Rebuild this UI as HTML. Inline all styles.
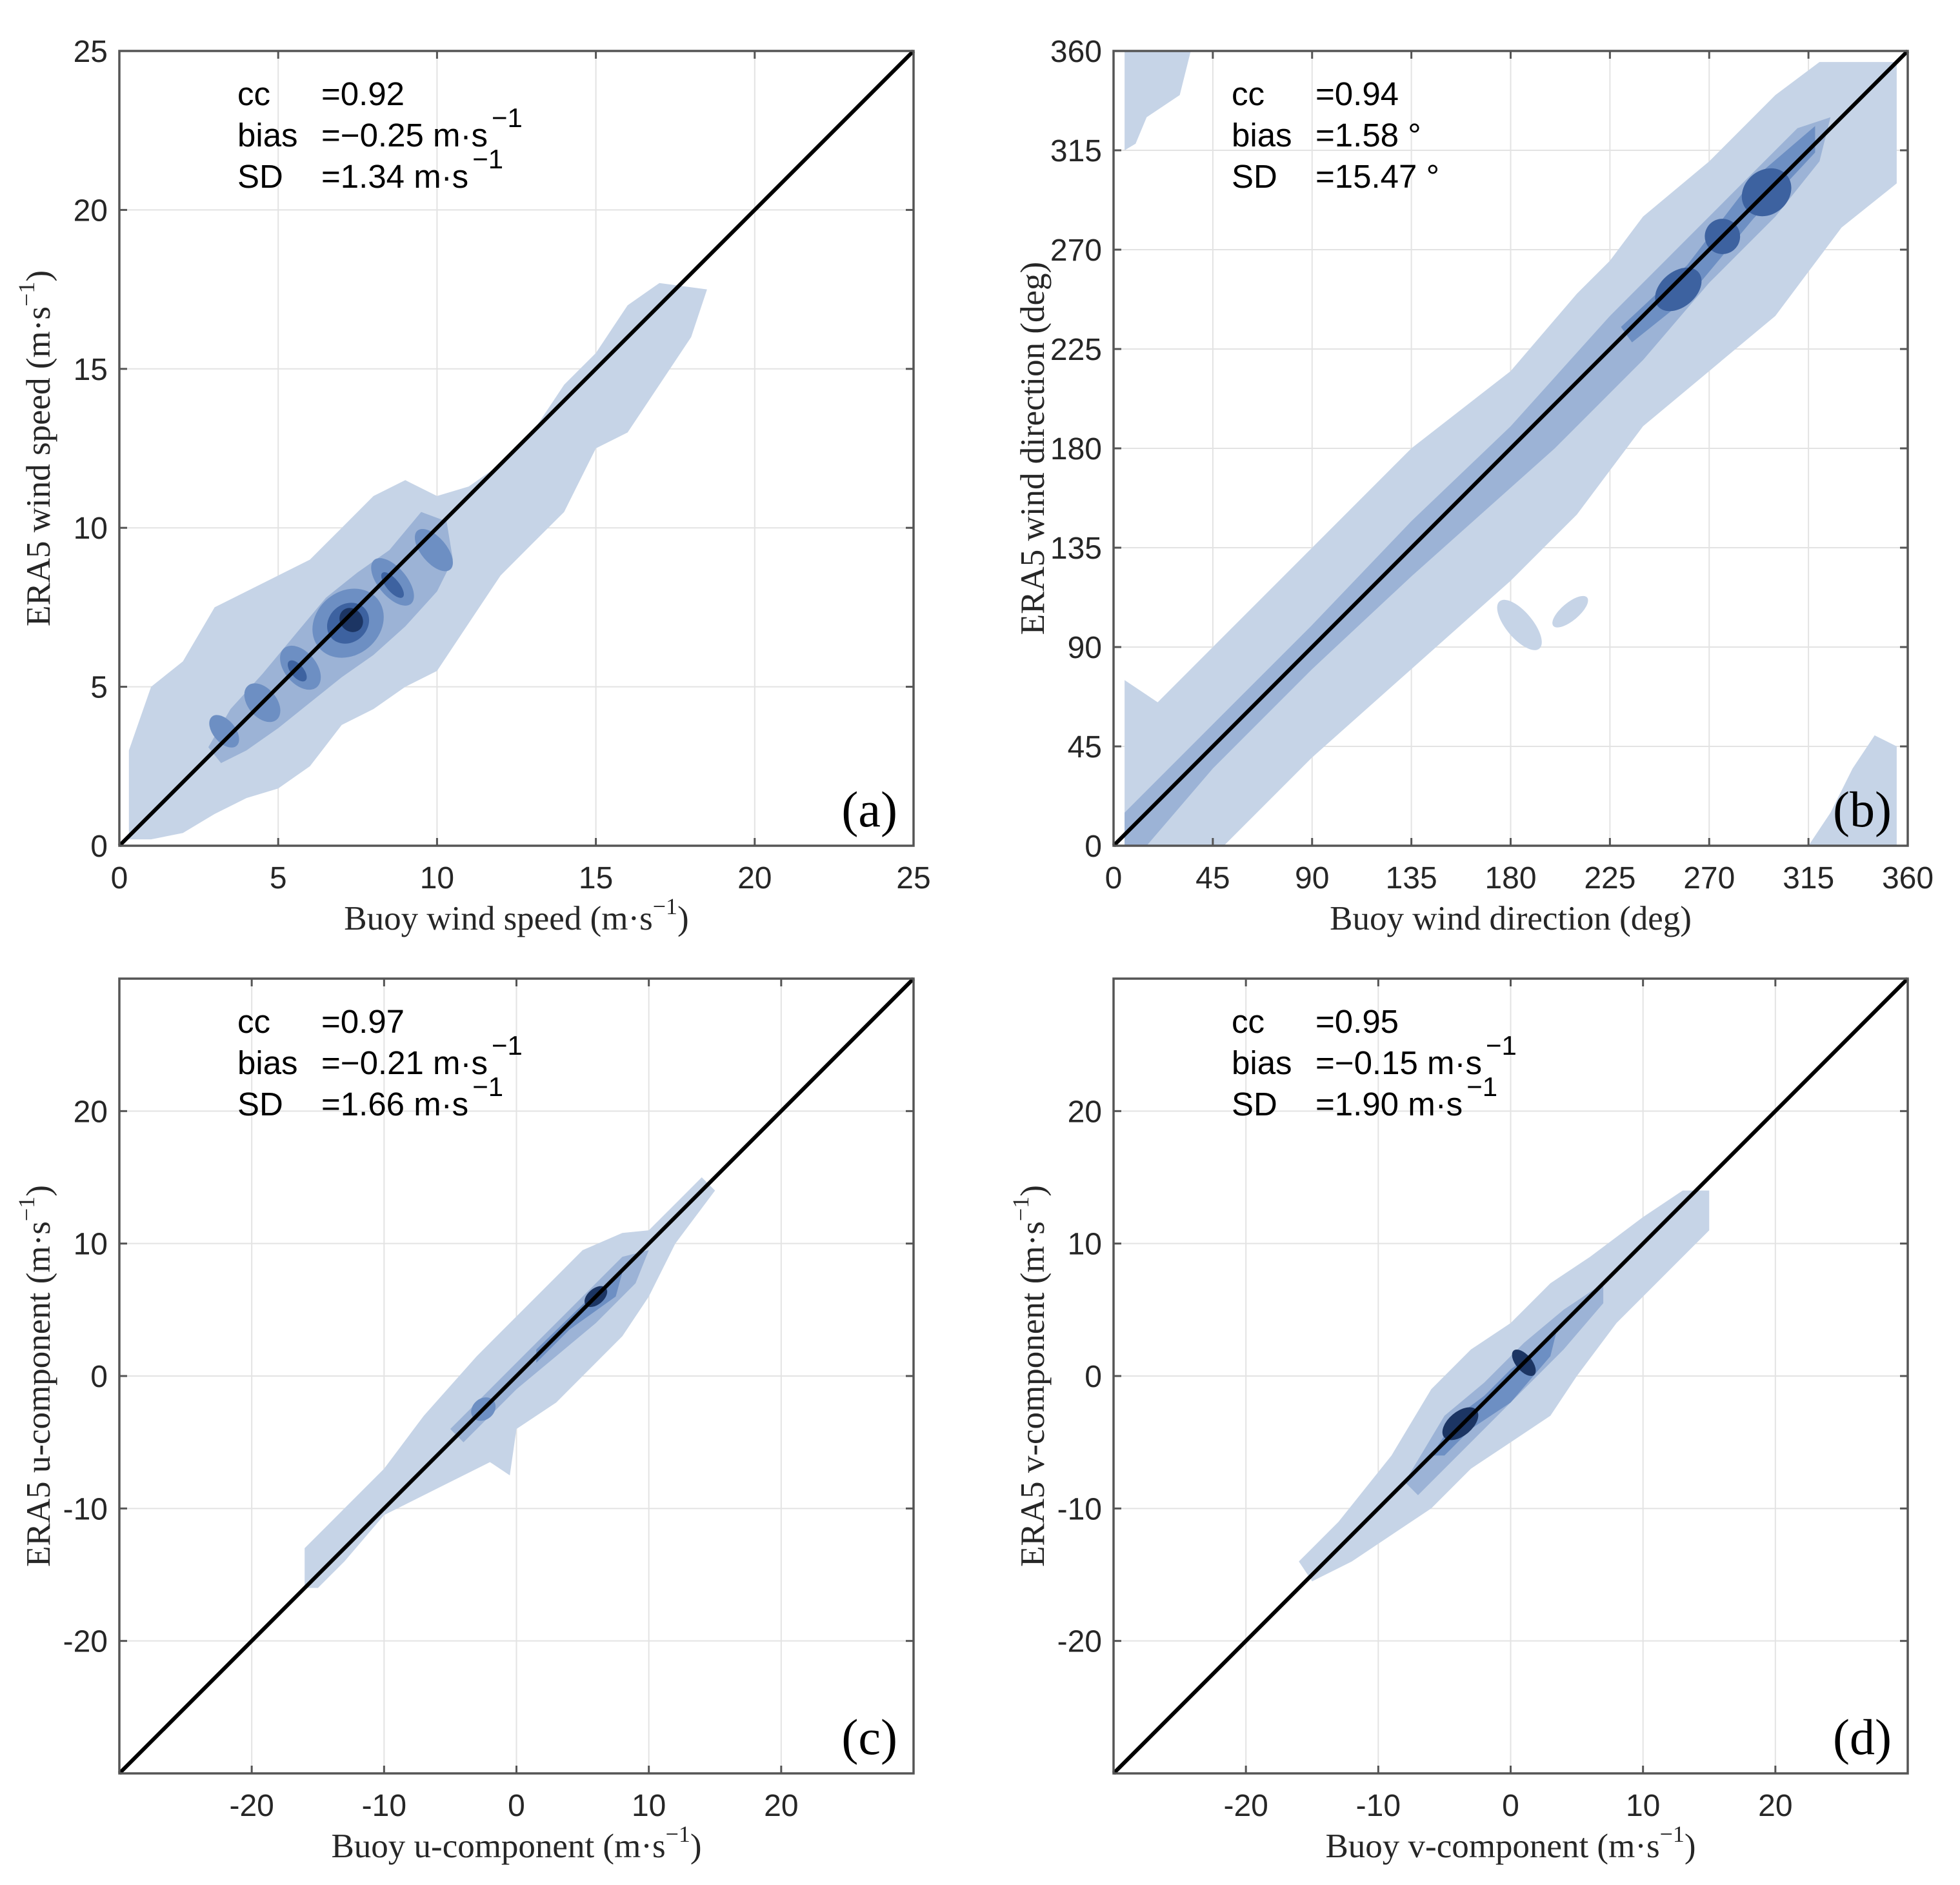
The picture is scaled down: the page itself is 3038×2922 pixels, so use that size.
<!DOCTYPE html>
<html><head><meta charset="utf-8">
<style>
html,body{margin:0;padding:0;background:#fff;}
svg{display:block;}
.tk{font-family:"Liberation Sans Narrow","Liberation Sans",sans-serif;font-size:48px;fill:#262626;}
.st{font-family:"Liberation Sans Narrow","Liberation Sans",sans-serif;font-size:51px;fill:#000;}
.ti{font-family:"Liberation Serif",serif;font-size:53px;fill:#262626;}
.pl{font-family:"Liberation Serif",serif;font-size:78px;fill:#000;}
</style></head>
<body>
<svg id="fig" width="3038" height="2922" viewBox="0 0 3038 2922" xmlns="http://www.w3.org/2000/svg"></svg>
<script>
// ---- data ----
const ticksA = [0,5,10,15,20,25];
const ticksB = [0,45,90,135,180,225,270,315,360];
const ticksC = [-20,-10,0,10,20];
const levelColors = ['#c6d4e7','#9cb3d6','#6d8fc3','#3d62a0','#1c3563'];

const contA1 = [[0.3,0.2],[0.3,3],[1,5],[2,5.8],[3,7.5],[4,8],[5,8.5],[6,9],[7,10],[8,11],[9,11.5],[10,11],[11,11.3],[12,12],[13,13],[14,14.5],[15,15.5],[16,17],[17,17.7],[18.5,17.5],[18,16],[17,14.5],[16,13],[15,12.5],[14,10.5],[13,9.5],[12,8.5],[11,7],[10,5.5],[9,5],[8,4.3],[7,3.8],[6,2.5],[5,1.8],[4,1.5],[3,1],[2,0.4],[1,0.2]];
const contA2 = [[2.8,3.1],[3.5,4.3],[4.5,5.4],[5.5,6.6],[6.5,7.8],[7.5,8.6],[8.5,9.3],[9.5,10.5],[10.3,10.2],[10.5,9],[10,8],[9,6.9],[8,6],[7,5.3],[6,4.5],[5,3.7],[4,3],[3.2,2.6]];
const blobsA = [[3.3,3.6,0.35,0.6,2],[4.5,4.5,0.45,0.7,2],[5.7,5.6,0.5,0.8,2],[7.2,7,1.2,1.0,2],[8.6,8.3,0.45,0.9,2],[9.9,9.3,0.4,0.8,2],[7.2,7,0.7,0.6,3],[5.6,5.5,0.2,0.4,3],[8.6,8.2,0.2,0.5,3],[7.3,7.1,0.35,0.4,4]];

const contB1 = [[5,0],[5,75],[20,65],[45,90],[90,135],[135,180],[180,215],[210,250],[225,265],[240,285],[270,310],[300,340],[320,355],[355,355],[355,300],[330,280],[300,240],[270,215],[240,190],[210,150],[180,120],[135,80],[90,40],[60,10],[50,0]];
const contB2 = [[5,0],[5,15],[45,55],[90,100],[135,147],[180,190],[225,240],[250,265],[280,295],[310,325],[325,330],[320,310],[300,285],[270,255],[240,220],[200,180],[135,122],[90,80],[45,35],[15,0]];
const contB3 = [[230,235],[260,263],[290,302],[318,326],[318,314],[290,284],[260,248],[235,228]];
const contB4 = [[5,315],[5,360],[35,360],[30,340],[15,330],[10,318]];
const contB5 = [[315,0],[355,0],[355,45],[345,50],[335,35],[325,15]];
const blobsB = [[184,100,6,14,0],[207,106,10,4,0],[256,252,12,8,3],[296,296,12,10,3],[276,276,8,8,3]];

const contC1 = [[-16,-16],[-16,-13],[-13,-10],[-10,-7],[-7,-3],[-3,1.5],[0,4.5],[3,7.5],[5,9.5],[8,10.8],[10,11],[12,13],[14,15],[15,14],[12,10],[10,6],[8,3],[5,0],[3,-2],[0,-4],[-0.5,-7.5],[-2,-6.5],[-6,-8.5],[-10,-10.5],[-13,-14],[-15,-16]];
const contC2 = [[-5,-4],[-2,-1],[2,3],[5,6],[8,9],[10,9.5],[9,7],[6,4],[3,1.5],[0,-1],[-2,-3],[-4,-5]];
const contC3 = [[1.5,2],[5,5.4],[8,7.8],[7.5,6],[4,3.5],[1.5,1]];
const blobsC = [[-2.5,-2.5,1,0.8,2],[6,6,1,0.6,4]];

const contD1 = [[-16,-14],[-13,-11],[-9,-6],[-6,-1],[-3,2],[0,4],[3,7],[6,9],[10,12],[13,14],[15,14],[15,11],[12,8],[8,4],[5,0],[3,-3],[0,-5],[-3,-7],[-6,-10],[-9,-12],[-12,-14],[-15,-15.5]];
const contD2 = [[-8,-8],[-5,-3],[-2,-0.5],[1,2.5],[4,5],[7,7],[7,5.5],[4,2],[1,-1],[-2,-4],[-5,-7],[-7,-9]];
const contD3 = [[-6,-6],[-4,-3],[-2,-1.5],[0,0.5],[2,2],[3.5,3.5],[3,1.5],[0,-2],[-3,-4],[-5,-6]];
const blobsD = [[-3.8,-3.6,1.6,0.9,4],[1,1,0.6,1.2,4]];

// ---- drawing ----
const NS='http://www.w3.org/2000/svg';
const svg=document.getElementById('fig');
function mk(tag,attrs,parent){const e=document.createElementNS(NS,tag);for(const k in attrs)e.setAttribute(k,attrs[k]);(parent||svg).appendChild(e);return e;}

function panel(p){
  const g=mk('g',{});
  
  
  const W=1231,H=1232;
  const sx=v=>p.x0+(v-p.min)/(p.max-p.min)*W;
  const sy=v=>p.y0+H-(v-p.min)/(p.max-p.min)*H;
  const clipId='clip'+p.id;
  const cp=mk('clipPath',{id:clipId},g);mk('rect',{x:p.x0,y:p.y0,width:W,height:H},cp);
  p.ticks.forEach(t=>{
    if(t>p.min&&t<p.max){
      const gx=mk('line',{x1:sx(t),x2:sx(t),y1:p.y0,y2:p.y0+H,stroke:'#e3e3e3','stroke-width':2},g);
      
      const gy=mk('line',{x1:p.x0,x2:p.x0+W,y1:sy(t),y2:sy(t),stroke:'#e3e3e3','stroke-width':2},g);
      
    }
  });
  const cg=mk('g',{'clip-path':'url(#'+clipId+')'},g);
  
  
  p.polys.forEach(([pts,lv])=>{
    const d='M'+pts.map(q=>sx(q[0]).toFixed(1)+','+sy(q[1]).toFixed(1)).join('L')+'Z';
    const e=mk('path',{d:d,fill:levelColors[lv]},cg);
    
    
  });
  p.blobs.forEach(b=>{
    const e=mk('ellipse',{cx:sx(b[0]),cy:sy(b[1]),rx:b[2]/(p.max-p.min)*W,ry:b[3]/(p.max-p.min)*H,fill:levelColors[b[4]],transform:'rotate(-40 '+sx(b[0])+' '+sy(b[1])+')'},cg);
    
    
  });
  const dl=mk('line',{x1:sx(p.min),y1:sy(p.min),x2:sx(p.max),y2:sy(p.max),stroke:'#000','stroke-width':6},g);
  
  const box=mk('rect',{x:p.x0,y:p.y0,width:W,height:H,fill:'none',stroke:'#555','stroke-width':3.5},g);
  
  p.ticks.forEach(t=>{
    mk('line',{x1:sx(t),x2:sx(t),y1:p.y0+H,y2:p.y0+H-12,stroke:'#555','stroke-width':3},g);
    mk('line',{x1:sx(t),x2:sx(t),y1:p.y0,y2:p.y0+12,stroke:'#555','stroke-width':3},g);
    mk('line',{x1:p.x0,x2:p.x0+12,y1:sy(t),y2:sy(t),stroke:'#555','stroke-width':3},g);
    mk('line',{x1:p.x0+W,x2:p.x0+W-12,y1:sy(t),y2:sy(t),stroke:'#555','stroke-width':3},g);
    const tx=mk('text',{x:sx(t),y:p.y0+H+66,'text-anchor':'middle',class:'tk'},g);tx.textContent=t;
    
    const ty=mk('text',{x:p.x0-18,y:sy(t)+17,'text-anchor':'end',class:'tk'},g);ty.textContent=t;
    
  });
  const st=mk('g',{},g);
  p.stats.forEach((s,i)=>{
    const y=p.y0+84+i*64;
    const t1=mk('text',{x:p.x0+183,y:y,class:'st'},st);t1.textContent=s[0];
    const t2=mk('text',{x:p.x0+313,y:y,class:'st'},st);t2.textContent=s[1];
    if(s[2]){const ts=mk('tspan',{dx:6,dy:-30,'font-size':42},t2);ts.textContent=s[2];}
  });
  const pl=mk('text',{x:p.x0+W-25,y:p.y0+H-30,'text-anchor':'end',class:'pl'},g);pl.textContent=p.label;
  
  const xt=mk('text',{x:p.x0+W/2,y:p.y0+H+130,'text-anchor':'middle',class:'ti'},g);
  
  xt.textContent=p.xt[0];
  if(p.xt[1]){const a=mk('tspan',{dy:-24,'font-size':36},xt);a.textContent='−1';const b=mk('tspan',{dy:24},xt);b.textContent=')';}
  const yx=p.x0-108, yy=p.y0+H/2;
  const yt=mk('text',{x:yx,y:yy,'text-anchor':'middle',class:'ti',transform:'rotate(-90 '+yx+' '+yy+')'},g);
  
  yt.textContent=p.yt[0];
  if(p.yt[1]){const a=mk('tspan',{dy:-24,'font-size':36},yt);a.textContent='−1';const b=mk('tspan',{dy:24},yt);b.textContent=')';}
}

panel({id:'a',x0:185,y0:79,min:0,max:25,ticks:ticksA,label:'(a)',
  polys:[[contA1,0],[contA2,1]],blobs:blobsA,
  stats:[['cc','=0.92'],['bias','=−0.25 m·s','−1'],['SD','=1.34 m·s','−1']],
  xt:['Buoy wind speed (m·s',1],yt:['ERA5 wind speed (m·s',1]});
panel({id:'b',x0:1726,y0:79,min:0,max:360,ticks:ticksB,label:'(b)',
  polys:[[contB1,0],[contB4,0],[contB5,0],[contB2,1],[contB3,2]],blobs:blobsB,
  stats:[['cc','=0.94'],['bias','=1.58 °'],['SD','=15.47 °']],
  xt:['Buoy wind direction (deg)'],yt:['ERA5 wind direction (deg)']});
panel({id:'c',x0:185,y0:1517,min:-30,max:30,ticks:ticksC,label:'(c)',
  polys:[[contC1,0],[contC2,1],[contC3,2]],blobs:blobsC,
  stats:[['cc','=0.97'],['bias','=−0.21 m·s','−1'],['SD','=1.66 m·s','−1']],
  xt:['Buoy u-component (m·s',1],yt:['ERA5 u-component (m·s',1]});
panel({id:'d',x0:1726,y0:1517,min:-30,max:30,ticks:ticksC,label:'(d)',
  polys:[[contD1,0],[contD2,1],[contD3,2]],blobs:blobsD,
  stats:[['cc','=0.95'],['bias','=−0.15 m·s','−1'],['SD','=1.90 m·s','−1']],
  xt:['Buoy v-component (m·s',1],yt:['ERA5 v-component (m·s',1]});
</script>
</body></html>
